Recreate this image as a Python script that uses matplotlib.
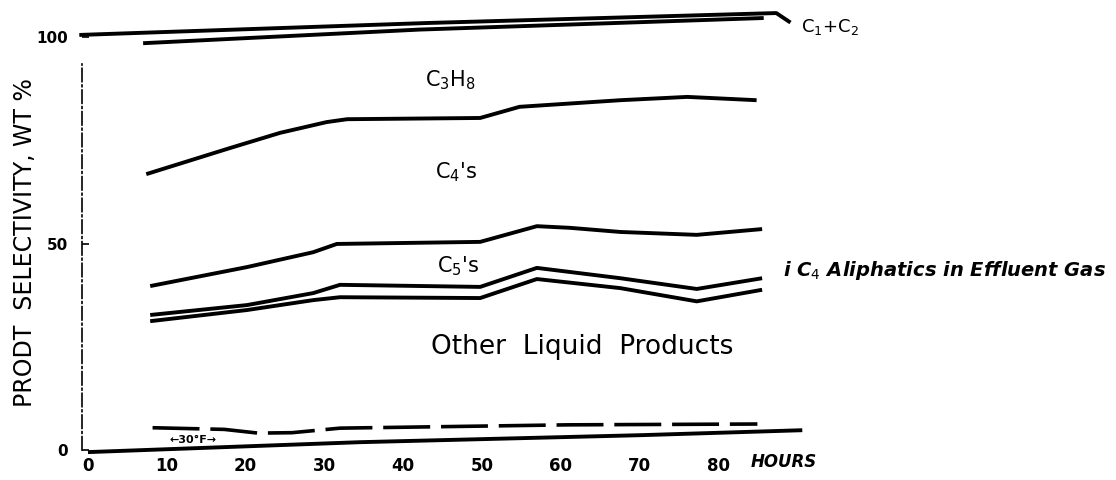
import matplotlib
matplotlib.use("Agg")
import matplotlib.pyplot as plt

# hand drawn chart (wt %, vs hours on stream)
ticks_h = [0, 10, 20, 30, 40, 50, 60, 70, 80]
ticks_sel = [0, 50, 100]

top_h = [-1.1, 43.2, 87.4, 89.2]
top_sel = [100.5, 103.4, 105.8, 103.5]

c1c2_h = [7.0, 42.1, 85.8]
c1c2_sel = [98.5, 101.8, 104.6]

c3h8_h = [7.4, 18.0, 24.4, 30.3, 32.9, 49.8, 54.8, 67.6, 76.1, 84.9]
c3h8_sel = [66.8, 73.1, 76.8, 79.4, 80.1, 80.4, 83.1, 84.7, 85.5, 84.7]

c4_h = [7.9, 20.2, 28.6, 31.6, 49.8, 57.0, 61.2, 67.6, 77.3, 85.6]
c4_sel = [39.7, 44.3, 47.9, 49.9, 50.4, 54.2, 53.8, 52.8, 52.1, 53.5]

c5_h = [7.9, 20.2, 28.6, 32.0, 49.8, 57.0, 67.6, 77.3, 85.6]
c5_sel = [32.7, 35.1, 38.0, 40.0, 39.5, 44.1, 41.6, 39.0, 41.6]

ic4_h = [7.9, 20.2, 28.6, 32.0, 49.8, 57.0, 67.6, 77.3, 85.6]
ic4_sel = [31.2, 33.9, 36.3, 37.0, 36.8, 41.4, 39.2, 36.0, 38.8]

t30_h = [8.2, 17.3, 21.6, 25.9, 32.0, 60.9, 85.0]
t30_sel = [5.4, 5.0, 4.1, 4.2, 5.3, 6.1, 6.3]

base_h = [0, 34.5, 70.2, 90.7]
base_sel = [-0.5, 1.9, 3.6, 4.8]

fig = plt.figure(figsize=(11.16, 4.8), dpi=100)
W, H = 1116, 480
ax = fig.add_axes([82 / W, 21.7 / H, 718 / W, 450.2 / H])
ax.set_xlim(-0.76, 90.41)
ax.set_ylim(-2, 107)

lw = 2.8
for hh, ss in [(top_h, top_sel), (c1c2_h, c1c2_sel), (c3h8_h, c3h8_sel),
               (c4_h, c4_sel), (c5_h, c5_sel), (ic4_h, ic4_sel),
               (base_h, base_sel)]:
  ax.plot(hh, ss, color="black", lw=lw, solid_capstyle="butt", clip_on=False)
ax.plot(t30_h, t30_sel, color="black", lw=2.6, linestyle=(0, (13, 3)),
        clip_on=False)

for s in ["top", "right", "bottom"]:
  ax.spines[s].set_visible(False)
ax.spines["left"].set_bounds(0, 93.5)
ax.spines["left"].set_linestyle((0, (8, 2, 1, 2)))
ax.spines["left"].set_linewidth(1.2)

ax.set_xticks(ticks_h)
ax.set_xticklabels([str(t) for t in ticks_h], fontsize=12, fontweight="bold")
ax.tick_params(axis="x", length=0, pad=-1)
ax.set_yticks(ticks_sel)
ax.set_yticklabels([str(t) for t in ticks_sel], fontsize=11, fontweight="bold")
ax.tick_params(axis="y", direction="in", length=5, width=1.2, pad=10)

ax.text(88.4, -3.0, "HOURS", fontsize=12, fontweight="bold", style="italic",
        ha="center", va="center", clip_on=False)
ax.text(90.6, 102.5, "C$_1$+C$_2$", fontsize=13, ha="left", va="center",
        clip_on=False)
ax.text(46, 89.5, "C$_3$H$_8$", fontsize=15, ha="center", va="center")
ax.text(46.7, 67.3, "C$_4$'s", fontsize=15, ha="center", va="center")
ax.text(47, 44.6, "C$_5$'s", fontsize=15, ha="center", va="center")
ax.text(62.7, 24.9, "Other  Liquid  Products", fontsize=19, ha="center",
        va="center")
ax.text(88.3, 43.4, "i C$_4$ Aliphatics in Effluent Gas", fontsize=14,
        style="italic", fontweight="bold", ha="left", va="center",
        clip_on=False)
ax.text(13.3, 2.4, "\u219030\u00b0F\u2192", fontsize=8, fontweight="bold",
        ha="center", va="center")

fig.text(25 / W, 1 - 243 / H, "PRODT  SELECTIVITY, WT %", rotation=90,
         fontsize=17, ha="center", va="center")

fig.savefig("out.png", dpi=100, facecolor="white")
